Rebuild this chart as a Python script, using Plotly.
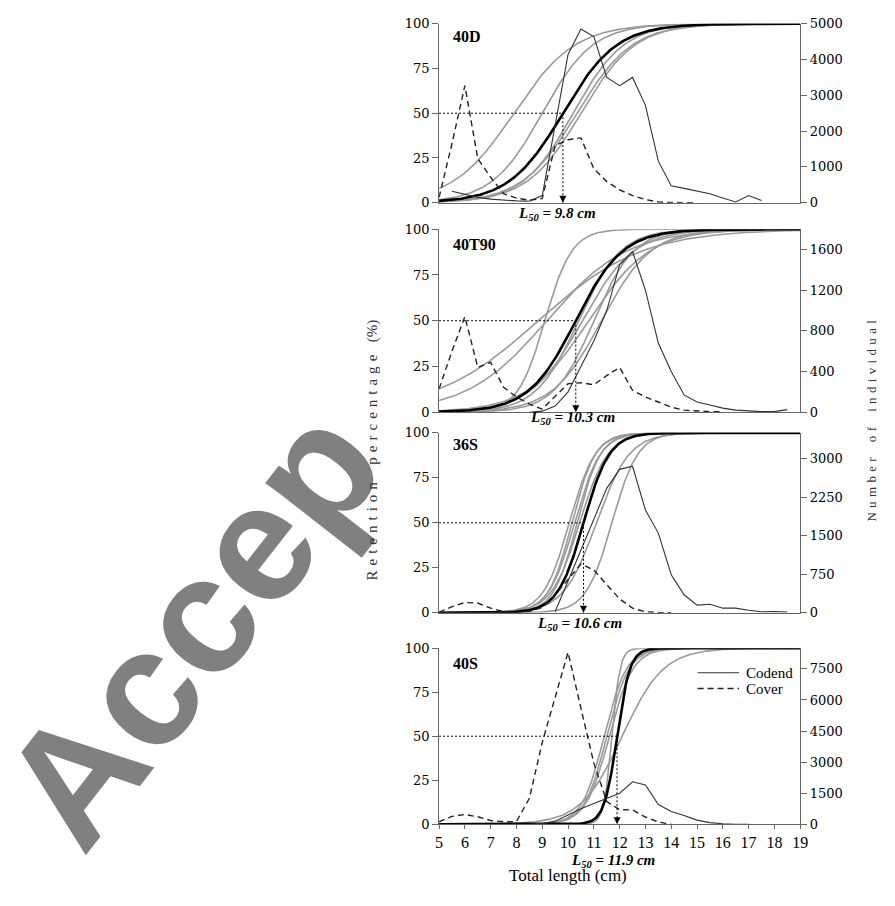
import numpy as np
import plotly.graph_objects as go

# ---------------- data ----------------
PANELS = ["40D", "40T90", "36S", "40S"]
L50_MEAN = [9.8, 10.3, 10.6, 11.9]
SR_MEAN = [2.3, 2.0, 1.1, 0.55]
L50_TEXT = ["9.8", "10.3", "10.6", "11.9"]

# individual haul selection curves (L50, selection range)
HAUL_L50_40D = [7.9, 9.0, 10.2, 10.35, 10.5]
HAUL_SR_40D = [2.6, 2.15, 2.15, 2.35, 2.3]
HAUL_L50_40T90 = [8.85, 9.17, 9.1, 10.4, 10.55, 10.8, 11.0, 11.3]
HAUL_SR_40T90 = [4.4, 3.4, 1.15, 1.8, 2.2, 2.6, 1.7, 2.1]
HAUL_L50_36S = [10.05, 10.15, 10.25, 10.35, 10.45, 11.1, 11.7]
HAUL_SR_36S = [1.1, 1.0, 1.1, 1.0, 1.2, 1.4, 1.1]
HAUL_L50_40S = [11.4, 11.5, 11.6, 11.7, 12.1]
HAUL_SR_40S = [0.95, 0.95, 1.0, 0.35, 1.75]

# length frequencies (number of individuals)
CODEND_X_40D = [5.5, 6, 6.5, 7, 7.5, 8, 8.5, 9, 9.5, 10, 10.5, 11, 11.5, 12, 12.5,
                13, 13.5, 14, 14.5, 15, 15.5, 16, 16.5, 17, 17.5]
CODEND_40D = [320, 230, 150, 100, 70, 50, 40, 200, 2170, 4140, 4850, 4640, 3500, 3270,
              3500, 2720, 1160, 475, 400, 320, 250, 130, 20, 200, 60]
COVER_X_40D = [5, 5.5, 6, 6.5, 7, 7.5, 8, 8.5, 9, 9.5, 10, 10.5, 11, 11.5, 12, 12.5,
               13, 13.5, 14, 14.5, 15]
COVER_40D = [150, 1650, 3270, 1230, 710, 250, 130, 70, 120, 1600, 1760, 1810, 950, 590,
             360, 200, 90, 20, 5, 0, 0]

CODEND_X_40T90 = [8.5, 9, 9.5, 10, 10.5, 11, 11.5, 12, 12.5, 13, 13.5, 14, 14.5, 15,
                  15.5, 16, 16.5, 17, 17.5, 18, 18.5]
CODEND_40T90 = [0, 10, 60, 200, 450, 700, 1000, 1450, 1580, 1200, 680, 400, 170, 100,
                70, 40, 20, 10, 5, 5, 25]
COVER_X_40T90 = [5, 5.5, 6, 6.5, 7, 7.5, 8, 8.5, 9, 9.5, 10, 10.5, 11, 11.5, 12, 12.5,
                 13, 13.5, 14, 14.5, 15, 15.5, 16]
COVER_40T90 = [230, 600, 940, 440, 490, 245, 150, 80, 30, 150, 280, 290, 270, 360, 440,
               215, 150, 100, 50, 20, 10, 5, 3]

CODEND_X_36S = [9.5, 10, 10.5, 11, 11.5, 12, 12.5, 13, 13.5, 14, 14.5, 15, 15.5, 16,
                16.5, 17, 17.5, 18, 18.5]
CODEND_36S = [20, 620, 1220, 1820, 2420, 2790, 2850, 2000, 1550, 740, 350, 150, 165, 90,
              90, 50, 20, 25, 15]
COVER_X_36S = [5, 5.5, 6, 6.5, 7, 7.5, 8, 8.5, 9, 9.5, 10, 10.5, 11, 11.5, 12, 12.5, 13,
               13.5, 14]
COVER_36S = [10, 120, 200, 190, 90, 20, 10, 30, 100, 350, 650, 950, 830, 560, 270, 90,
             20, 5, 0]

CODEND_X_40S = [8.5, 9, 9.5, 10, 10.5, 11, 11.5, 12, 12.5, 13, 13.5, 14, 14.5, 15, 15.5,
                16, 16.5, 17]
CODEND_40S = [0, 30, 150, 450, 750, 1000, 1250, 1500, 2050, 1900, 950, 620, 420, 200, 80,
              20, 0, 0]
COVER_X_40S = [5, 5.5, 6, 6.5, 7, 7.5, 8, 8.5, 9, 9.5, 10, 10.5, 11, 11.5, 12, 12.5, 13,
               13.5, 14]
COVER_40S = [120, 380, 470, 360, 180, 120, 130, 1250, 3950, 6150, 8300, 5600, 2950, 1100,
             700, 690, 350, 110, 0]

RIGHT_MAX = [5000, 1800, 3500, 8500]
RIGHT_TICKS = [[0, 1000, 2000, 3000, 4000, 5000],
               [0, 400, 800, 1200, 1600],
               [0, 750, 1500, 2250, 3000],
               [0, 1500, 3000, 4500, 6000, 7500]]
LEFT_TICKS = [0, 25, 50, 75, 100]
X_TICKS = list(range(5, 20))
LEGEND_NAMES = ["Codend", "Cover"]

HAUL_L50 = [HAUL_L50_40D, HAUL_L50_40T90, HAUL_L50_36S, HAUL_L50_40S]
HAUL_SR = [HAUL_SR_40D, HAUL_SR_40T90, HAUL_SR_36S, HAUL_SR_40S]
CODEND_X = [CODEND_X_40D, CODEND_X_40T90, CODEND_X_36S, CODEND_X_40S]
CODEND = [CODEND_40D, CODEND_40T90, CODEND_36S, CODEND_40S]
COVER_X = [COVER_X_40D, COVER_X_40T90, COVER_X_36S, COVER_X_40S]
COVER = [COVER_40D, COVER_40T90, COVER_36S, COVER_40S]

# ---------------- layout helpers ----------------
W, H = 895, 906
def px(x):
    return x / W
def py(y):
    return 1 - y / H

X_DOM = [px(441), px(807)]
PANEL_PX = [(17, 199), (226, 412), (433, 616), (652, 831)]

SERIF = "Liberation Serif, Times New Roman, serif"
TICKFONT = dict(family="DejaVu Serif, serif", size=13, color="black")
AXCOL = "#666666"
CODEND_STYLE = dict(color="#333333", width=1.1)
COVER_STYLE = dict(color="#222222", width=1.4, dash="6px,4px")

lengths = np.linspace(5, 19, 281)
def logistic(l, l50, sr):
    return 100.0 / (1.0 + np.exp(-2.0 * np.log(3.0) * (l - l50) / sr))

fig = go.Figure()
layout = dict(width=W, height=H, margin=dict(l=0, r=0, t=0, b=0), autosize=False,
              plot_bgcolor="white", paper_bgcolor="white", showlegend=False)

shapes = []
annotations = []

# watermark
annotations.append(dict(text="<b>Accep</b>", xref="paper", yref="paper", x=px(190),
                        y=py(630), xanchor="center", yanchor="middle",
                        showarrow=False, textangle=-52,
                        font=dict(family="Liberation Sans, Arial, sans-serif",
                                  size=166, color="#808080")))

for i in range(4):
    top, bot = PANEL_PX[i]
    xn = "x" if i == 0 else f"x{i+1}"
    yl = f"y{2*i+1}" if i > 0 else "y"
    yr = f"y{2*i+2}"
    xkey = "xaxis" if i == 0 else f"xaxis{i+1}"
    ylkey = "yaxis" if i == 0 else f"yaxis{2*i+1}"
    yrkey = f"yaxis{2*i+2}"
    last = (i == 3)
    xa = dict(domain=X_DOM, anchor=yl, range=[5, 19], showgrid=False,
              zeroline=False, showline=True, linecolor=AXCOL, linewidth=1,
              tickfont=dict(family=SERIF, size=16, color="black"))
    if last:
        xa.update(ticks="outside", ticklen=4, tickcolor=AXCOL, tickvals=X_TICKS,
                  showticklabels=True)
    else:
        xa.update(ticks="", showticklabels=False)
    layout[xkey] = xa
    layout[ylkey] = dict(domain=[py(bot), py(top)], anchor=xn, range=[0, 100],
                         showgrid=False, zeroline=False, showline=True, linecolor=AXCOL,
                         linewidth=1, ticks="outside", ticklen=6, tickcolor=AXCOL,
                         tickvals=LEFT_TICKS, tickfont=TICKFONT)
    layout[yrkey] = dict(anchor=xn, overlaying=yl, side="right", range=[0, RIGHT_MAX[i]],
                         showgrid=False, zeroline=False, showline=True, linecolor=AXCOL,
                         linewidth=1, ticks="outside", ticklen=6, tickcolor=AXCOL,
                         tickvals=RIGHT_TICKS[i], tickfont=TICKFONT)

    # haul curves
    for l50, sr in zip(HAUL_L50[i], HAUL_SR[i]):
        fig.add_trace(go.Scatter(x=lengths, y=logistic(lengths, l50, sr), mode="lines",
                                 line=dict(color="#9a9a9a", width=1.6), xaxis=xn, yaxis=yl,
                                 hoverinfo="skip"))
    fig.add_trace(go.Scatter(x=lengths, y=logistic(lengths, L50_MEAN[i], SR_MEAN[i]),
                             mode="lines", line=dict(color="black", width=2.6),
                             xaxis=xn, yaxis=yl, hoverinfo="skip"))
    # length frequencies
    fig.add_trace(go.Scatter(x=CODEND_X[i], y=CODEND[i], mode="lines", name="Codend",
                             line=CODEND_STYLE, xaxis=xn, yaxis=yr))
    fig.add_trace(go.Scatter(x=COVER_X[i], y=COVER[i], mode="lines", name="Cover",
                             line=COVER_STYLE, xaxis=xn, yaxis=yr))

    # L50 dotted guides and arrow head
    shapes.append(dict(type="line", xref=xn, yref=yl, x0=5, x1=L50_MEAN[i], y0=50, y1=50,
                       line=dict(color="black", width=1, dash="2px,2px")))
    shapes.append(dict(type="line", xref=xn, yref=yl, x0=L50_MEAN[i], x1=L50_MEAN[i],
                       y0=50, y1=0, line=dict(color="black", width=1, dash="2px,2px")))
    fig.add_trace(go.Scatter(x=[L50_MEAN[i]], y=[0], mode="markers", xaxis=xn, yaxis=yl,
                             marker=dict(symbol="arrow-down", size=7, color="black"),
                             hoverinfo="skip", cliponaxis=False))

    # panel label
    label_y = [30, 241, 445, 668][i]
    annotations.append(dict(text=f"<b>{PANELS[i]}</b>", xref="paper", yref="paper",
                            x=px(453), y=py(label_y), xanchor="left", yanchor="middle",
                            showarrow=False, font=dict(family=SERIF, size=16, color="black")))
    # L50 text
    lx, ly = [(561, 210), (576, 418), (583, 627), (617, 868)][i]
    annotations.append(dict(text=f"<b><i>L<sub>50</sub> = {L50_TEXT[i]} cm</i></b>",
                            xref="paper", yref="paper", x=px(lx), y=py(ly),
                            xanchor="center", yanchor="middle", showarrow=False,
                            font=dict(family=SERIF, size=15, color="black")))

# legend (drawn inside the 40S panel)
for k, (name, style) in enumerate(zip(LEGEND_NAMES, [CODEND_STYLE, COVER_STYLE])):
    yy = py(677 + 16 * k)
    shapes.append(dict(type="line", xref="paper", yref="paper", x0=px(703), x1=px(745),
                       y0=yy, y1=yy, line=style))
    annotations.append(dict(text=name, xref="paper", yref="paper", x=px(750), y=yy,
                            xanchor="left", yanchor="middle", showarrow=False,
                            font=dict(family=SERIF, size=15, color="black")))

def spaced(s):
    words = s.split(" ")
    return "\u2004\u2002\u2004".join("\u2004".join(w) for w in words)

annotations.append(dict(text=spaced("Retention percentage") + "\u2004\u2002(%)",
                        xref="paper", yref="paper", x=px(374), y=py(450), textangle=-90,
                        showarrow=False, font=dict(family=SERIF, size=15, color="#333333")))
annotations.append(dict(text=spaced("Number of individual"), xref="paper", yref="paper",
                        x=px(888), y=py(421), textangle=-90, showarrow=False,
                        font=dict(family=SERIF, size=13, color="#333333")))
annotations.append(dict(text="Total length (cm)", xref="paper", yref="paper",
                        x=px(634), y=py(895), showarrow=False,
                        font=dict(family=SERIF, size=17, color="black")))

layout["shapes"] = shapes
layout["annotations"] = annotations
fig.update_layout(**layout)
fig.write_html(
    "out.html",
    config={"displayModeBar": False},
    post_script=("document.documentElement.style.overflow='hidden';"
                 "document.body.style.margin='0px';"
                 "document.body.style.overflow='hidden';"),
)
